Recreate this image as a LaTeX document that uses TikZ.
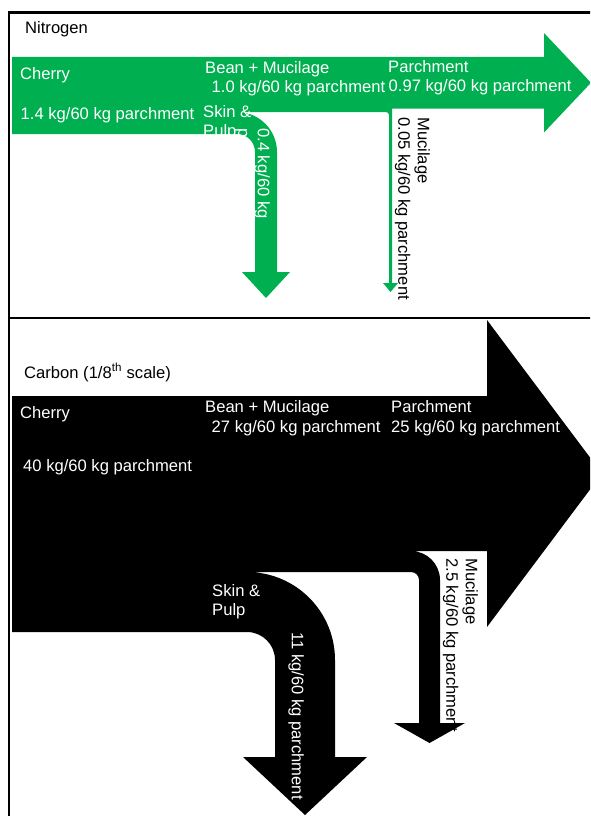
\documentclass[tikz,border=0pt]{standalone}
\usepackage{fontspec}
\setmainfont{Liberation Sans}
\usetikzlibrary{positioning}
\definecolor{flowgreen}{HTML}{00B050}

\begin{document}
\begin{tikzpicture}[
    x=1pt, y=-1pt,
    font=\fontsize{16.6}{19.5}\selectfont,
    frame/.style={draw, line width=2.5pt},
    nflow/.style={fill=flowgreen},
    cflow/.style={fill=black},
    flowtext/.style={inner sep=0pt, anchor=base west, text=white},
    sectitle/.style={inner sep=0pt, anchor=base west, text=black},
    vtext/.style={inner sep=0pt, anchor=north west, rotate=-90, align=left, text=black}
]
\useasboundingbox (0,0) rectangle (590,816);
\clip (0,0) rectangle (590,816);

% ---------------------------------------------------------------- Frame
\path[frame] (9,12.5) rectangle (610,840);
\draw[frame] (9,318) -- (610,318);

% ---------------------------------------------------------------- Nitrogen flows
\fill[nflow] (12,57) -- (544,57) -- (544,33) -- (591,82.75) -- (544,132.5) -- (544,108.5)
    -- (392,108.5) -- (392,283) -- (398,283) -- (390.5,292) -- (383,283) -- (389,283)
    -- (389,115) arc[start angle=0, end angle=90, radius=3pt]
    -- (237,112) arc[start angle=90, end angle=0, radius=40pt]
    -- (277,272) -- (290,272) -- (266,298) -- (242,272) -- (255,272)
    -- (255,152) arc[start angle=0, end angle=90, radius=18pt]
    -- (12,134) -- cycle;

% ---------------------------------------------------------------- Carbon flows
\fill[cflow] (12,396) -- (487,396) -- (487,320) -- (602,473.5) -- (487,627) -- (487,551)
    -- (411,551) arc[start angle=90, end angle=0, radius=29pt]
    -- (440,723) -- (465,723) -- (429.5,743) -- (394,723) -- (419,723)
    -- (419,580) arc[start angle=0, end angle=90, radius=8pt]
    -- (247,572) arc[start angle=90, end angle=0, radius=88pt]
    -- (335,757) -- (367,757) -- (305,815) -- (243,757) -- (275,757)
    -- (275,660) arc[start angle=0, end angle=90, radius=28pt]
    -- (12,632) -- cycle;

% ---------------------------------------------------------------- Nitrogen labels
\node[sectitle] (nTitle)     at (25,34)      {Nitrogen};
\node[flowtext] (nCherry)    at (20,79)      {Cherry};
\node[flowtext] (nCherryVal) at (20.5,119)   {1.4 kg/60 kg parchment};
\node[flowtext] (nBean)      at (205,74)     {Bean + Mucilage};
\node[flowtext] (nBeanVal)   at (211.5,92.5) {1.0 kg/60 kg parchment};
\node[flowtext] (nSkin)      at (203,117)    {Skin \&};
\node[flowtext] (nPulp)      at (203,136.5)  {Pulp};
\node[flowtext] (nParch)     at (388,73)     {Parchment};
\node[flowtext] (nParchVal)  at (388.5,92)   {0.97 kg/60 kg parchment};
\node[vtext, text=white] (nSkinVal) at (270,128) {0.4 kg/60 kg\\parchment};
\node[vtext] (nMuc)          at (430,117)    {Mucilage\\0.05 kg/60 kg parchment};

% ---------------------------------------------------------------- Carbon labels
\node[sectitle] (cTitle)     at (24,378)     {Carbon (1/8\textsuperscript{th} scale)};
\node[flowtext] (cCherry)    at (20,418)     {Cherry};
\node[flowtext] (cCherryVal) at (23,471)     {40 kg/60 kg parchment};
\node[flowtext] (cBean)      at (205,412.5)  {Bean + Mucilage};
\node[flowtext] (cBeanVal)   at (211.5,432)  {27 kg/60 kg parchment};
\node[flowtext] (cParch)     at (391,412)    {Parchment};
\node[flowtext] (cParchVal)  at (391,432)    {25 kg/60 kg parchment};
\node[flowtext] (cSkin)      at (212,596)    {Skin \&};
\node[flowtext] (cPulp)      at (212,615.5)  {Pulp};
\node[vtext, text=white] (cSkinVal) at (304,632) {11 kg/60 kg parchment};
\node[vtext] (cMuc)          at (478,558)    {Mucilage\\2.5 kg/60 kg parchment};

\end{tikzpicture}
\end{document}
